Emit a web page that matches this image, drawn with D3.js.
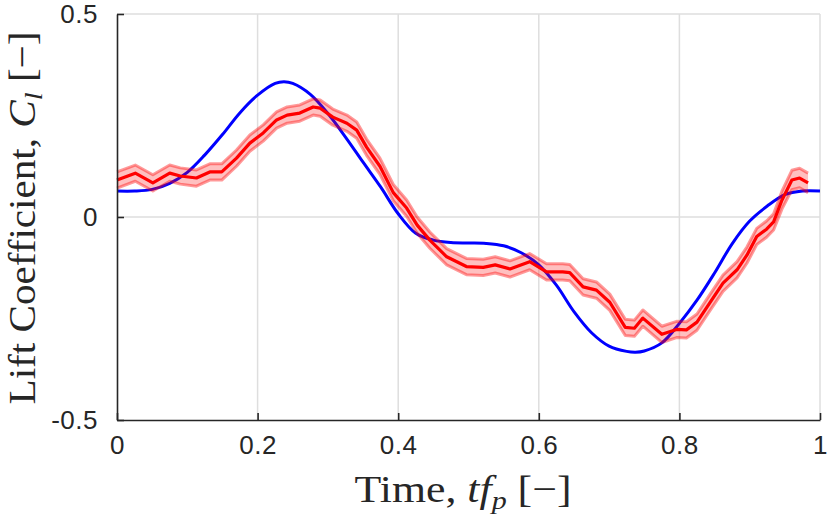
<!DOCTYPE html>
<html>
<head>
<meta charset="utf-8">
<script src="https://cdn.jsdelivr.net/npm/d3@7"></script>
<style>
  html, body { margin: 0; padding: 0; background: #fff; }
  svg { display: block; }
</style>
</head>
<body>
<svg id="chart" width="830" height="519"></svg>
<script>
// ---- data ----
const xTicks = [0, 0.2, 0.4, 0.6, 0.8, 1];
const xTickLabels = ["0", "0.2", "0.4", "0.6", "0.8", "1"];
const yTicks = [-0.5, 0, 0.5];
const yTickLabels = ["-0.5", "0", "0.5"];

// model (blue) curve
const modelT = [0, 0.025, 0.05, 0.075, 0.1, 0.125, 0.15, 0.175, 0.2, 0.225, 0.2375, 0.25, 0.275, 0.3, 0.325, 0.35, 0.375, 0.4,
  0.425, 0.45, 0.475, 0.5, 0.525, 0.55, 0.575, 0.6, 0.625, 0.65, 0.675, 0.7, 0.725, 0.7375, 0.75, 0.775, 0.8, 0.825, 0.85,
  0.875, 0.9, 0.925, 0.95, 0.975, 1.0];
const modelCl = [0.064, 0.064, 0.068, 0.083, 0.110, 0.153, 0.203, 0.257, 0.300, 0.329, 0.333, 0.329, 0.302, 0.255, 0.197,
  0.135, 0.074, 0.008, -0.040, -0.057, -0.063, -0.064, -0.065, -0.071, -0.088, -0.118, -0.168, -0.233, -0.285,
  -0.318, -0.331, -0.333, -0.330, -0.310, -0.262, -0.205, -0.138, -0.066, -0.010, 0.027, 0.055, 0.064, 0.064];

// measured (red) mean curve and band half-width
const measT = [0, 0.026, 0.051, 0.075, 0.09, 0.113, 0.132, 0.149, 0.17, 0.189, 0.208, 0.227, 0.242, 0.26, 0.279,
  0.289, 0.307, 0.327, 0.341, 0.355, 0.374, 0.393, 0.412, 0.427, 0.445, 0.469, 0.497, 0.521, 0.538, 0.559, 0.587,
  0.611, 0.634, 0.644, 0.663, 0.682, 0.701, 0.723, 0.736, 0.748, 0.775, 0.796, 0.81, 0.825, 0.843, 0.862, 0.882,
  0.896, 0.91, 0.924, 0.934, 0.946, 0.96, 0.971, 0.983];
const measCl = [0.091, 0.108, 0.084, 0.108, 0.101, 0.096, 0.111, 0.111, 0.145, 0.182, 0.207, 0.239, 0.251, 0.256,
  0.271, 0.268, 0.246, 0.231, 0.214, 0.172, 0.125, 0.060, 0.022, -0.020, -0.057, -0.098, -0.122, -0.124, -0.118,
  -0.128, -0.110, -0.135, -0.135, -0.137, -0.172, -0.180, -0.210, -0.272, -0.274, -0.249, -0.289, -0.277, -0.278,
  -0.259, -0.212, -0.163, -0.130, -0.094, -0.048, -0.030, -0.012, 0.042, 0.091, 0.096, 0.084];
const measSpread = [0.02, 0.02, 0.02, 0.02, 0.02, 0.02, 0.02, 0.02, 0.02, 0.02, 0.02, 0.02, 0.02, 0.02, 0.02,
  0.02, 0.02, 0.02, 0.02, 0.02, 0.02, 0.02, 0.02, 0.02, 0.02, 0.02, 0.02, 0.02, 0.02, 0.02, 0.02,
  0.02, 0.02, 0.02, 0.02, 0.02, 0.02, 0.02, 0.02, 0.02, 0.02, 0.02, 0.02, 0.02, 0.02, 0.02, 0.02,
  0.02, 0.02, 0.02, 0.02, 0.022, 0.024, 0.024, 0.024];

// ---- layout ----
const L = 117, R = 820, T = 14, B = 420;
const svg = d3.select("#chart");
const x = d3.scaleLinear().domain([0, 1]).range([L, R]);
const y = d3.scaleLinear().domain([-0.5, 0.5]).range([B, T]);

// grid
const grid = svg.append("g").attr("stroke", "#dedede").attr("stroke-width", 1.5);
xTicks.filter(d => d > 0).forEach(d => {
  grid.append("line").attr("x1", x(d)).attr("x2", x(d)).attr("y1", T).attr("y2", B);
});
yTicks.filter(d => d > -0.5).forEach(d => {
  grid.append("line").attr("x1", L).attr("x2", R).attr("y1", y(d)).attr("y2", y(d));
});

// model curve
const modelData = modelT.map((t, i) => ({ t, v: modelCl[i] }));
svg.append("path")
  .datum(modelData)
  .attr("fill", "none")
  .attr("stroke", "#0000ff")
  .attr("stroke-width", 3)
  .attr("d", d3.line().x(d => x(d.t)).y(d => y(d.v)).curve(d3.curveCatmullRom.alpha(0.5)));

// measured band
const measData = measT.map((t, i) => ({ t, v: measCl[i], s: measSpread[i] }));
svg.append("path")
  .datum(measData)
  .attr("fill", "#ff0000")
  .attr("fill-opacity", 0.25)
  .attr("stroke", "none")
  .attr("d", d3.area().x(d => x(d.t)).y0(d => y(d.v - d.s)).y1(d => y(d.v + d.s)));
[1, -1].forEach(sign => {
  svg.append("path")
    .datum(measData)
    .attr("fill", "none")
    .attr("stroke", "#ff0000")
    .attr("stroke-opacity", 0.4)
    .attr("stroke-width", 3)
    .attr("stroke-linejoin", "round")
    .attr("d", d3.line().x(d => x(d.t)).y(d => y(d.v + sign * d.s)));
});
svg.append("path")
  .datum(measData)
  .attr("fill", "none")
  .attr("stroke", "#ff0000")
  .attr("stroke-width", 3.2)
  .attr("stroke-linejoin", "round")
  .attr("d", d3.line().x(d => x(d.t)).y(d => y(d.v)));

// axes
const xAxis = d3.axisBottom(x).tickValues(xTicks).tickFormat((d, i) => xTickLabels[i]).tickSizeInner(-7).tickSizeOuter(0).tickPadding(16);
const yAxis = d3.axisLeft(y).tickValues(yTicks).tickFormat((d, i) => yTickLabels[i]).tickSizeInner(-7).tickSizeOuter(0).tickPadding(19);
const gx = svg.append("g").attr("transform", `translate(0,${B})`).call(xAxis);
const gy = svg.append("g").attr("transform", `translate(${L},0)`).call(yAxis);
[gx, gy].forEach(g => {
  g.select(".domain").attr("stroke", "#262626").attr("stroke-width", 1.6);
  g.selectAll(".tick line").attr("stroke", "#262626").attr("stroke-width", 1.6);
  g.selectAll(".tick text")
    .attr("fill", "#262626")
    .attr("font-family", "'Liberation Sans', Arial, sans-serif")
    .attr("font-size", 26)
    .attr("letter-spacing", 0.5);
});

// axis titles
const xTitle = svg.append("text")
  .attr("x", 463).attr("y", 502)
  .attr("text-anchor", "middle")
  .attr("font-family", "'Liberation Serif', 'DejaVu Serif', serif")
  .attr("font-size", 38)
  .attr("fill", "#262626")
  .attr("textLength", 217)
  .attr("lengthAdjust", "spacingAndGlyphs");
xTitle.append("tspan").text("Time, ");
xTitle.append("tspan").attr("font-style", "italic").text("tf");
xTitle.append("tspan").attr("font-style", "italic").attr("font-size", 26).attr("dy", 7).text("p");
xTitle.append("tspan").attr("dy", -7).text(" [\u2212]");

const yTitle = svg.append("text")
  .attr("transform", "translate(35,218) rotate(-90)")
  .attr("text-anchor", "middle")
  .attr("font-family", "'Liberation Serif', 'DejaVu Serif', serif")
  .attr("font-size", 38)
  .attr("fill", "#262626")
  .attr("textLength", 373)
  .attr("lengthAdjust", "spacingAndGlyphs");
yTitle.append("tspan").text("Lift Coefficient, ");
yTitle.append("tspan").attr("font-style", "italic").text("C");
yTitle.append("tspan").attr("font-style", "italic").attr("font-size", 26).attr("dy", 7).text("l");
yTitle.append("tspan").attr("dy", -7).text(" [\u2212]");
</script>
</body>
</html>
